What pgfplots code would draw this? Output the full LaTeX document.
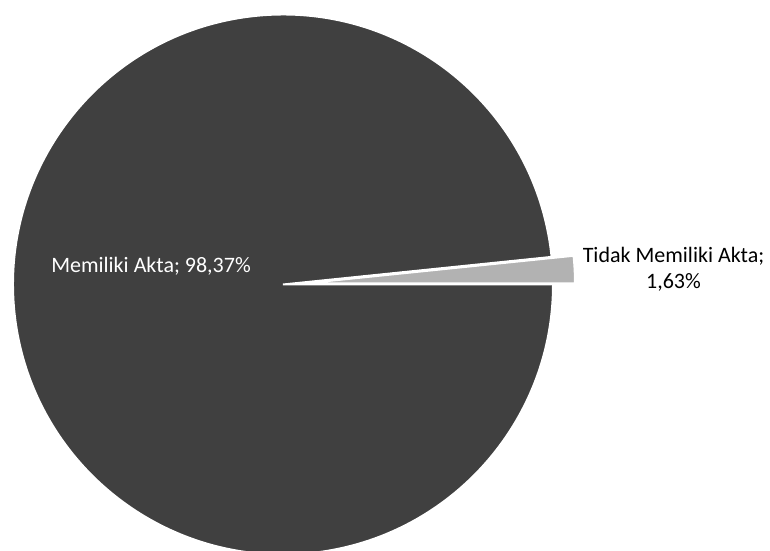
\documentclass[border=0pt]{standalone}
\usepackage{fontspec}
\setmainfont{Carlito}
\usepackage{pgfplots}
\usepackage{pgfplotstable}
\pgfplotsset{compat=1.18}

\definecolor{pieDark}{HTML}{404040}
\definecolor{pieLight}{HTML}{B2B2B2}

\pgfplotstableread[col sep=semicolon]{
label;value
Memiliki Akta;98.37
Tidak Memiliki Akta;1.63
}\aktadata

\pgfkeys{/pgf/number format/.cd, use comma, fixed, fixed zerofill, precision=2, assume math mode=true}
\newcommand{\lblfont}{\fontsize{16.5}{19.5}\selectfont}

\begin{document}
\begin{tikzpicture}
\useasboundingbox (0,0) rectangle (577.5pt,412.5pt);

% values and slice angles
\pgfplotstablegetelem{0}{value}\of\aktadata \let\valA\pgfplotsretval
\pgfplotstablegetelem{1}{value}\of\aktadata \let\valB\pgfplotsretval
\pgfmathsetmacro\angB{3.6*\valB}
\pgfmathsetmacro\cx{283}
\pgfmathsetmacro\cy{265.5}
\pgfmathsetmacro\gx{\cx+22*cos(\angB/2)}
\pgfmathsetmacro\gy{\cy+22*sin(\angB/2)}

\begin{axis}[
  at={(0,0)}, anchor=south west,
  width=577.5pt, height=412.5pt, scale only axis,
  xmin=0, xmax=770, ymin=0, ymax=550,
  hide axis,
]
\addplot[draw=none] coordinates {(0,0) (770,550)};

\fill[pieDark, draw=white, line width=1.5pt]
  (axis cs:\cx,\cy) -- ++(\angB:202.5pt)
  arc[start angle=\angB, end angle=360, radius=202.5pt] -- cycle;

\fill[pieLight, draw=white, line width=1.5pt]
  (axis cs:\gx,\gy) -- ++(0:202.5pt)
  arc[start angle=0, end angle=\angB, radius=202.5pt] -- cycle;

\node[white, font=\lblfont] at (axis cs:151,284)
  {Memiliki Akta; \pgfmathprintnumber{\valA}\%};
\node[black, font=\lblfont, align=center] at (axis cs:673.5,281)
  {Tidak Memiliki Akta;\\\pgfmathprintnumber{\valB}\%};
\end{axis}
\end{tikzpicture}
\end{document}
